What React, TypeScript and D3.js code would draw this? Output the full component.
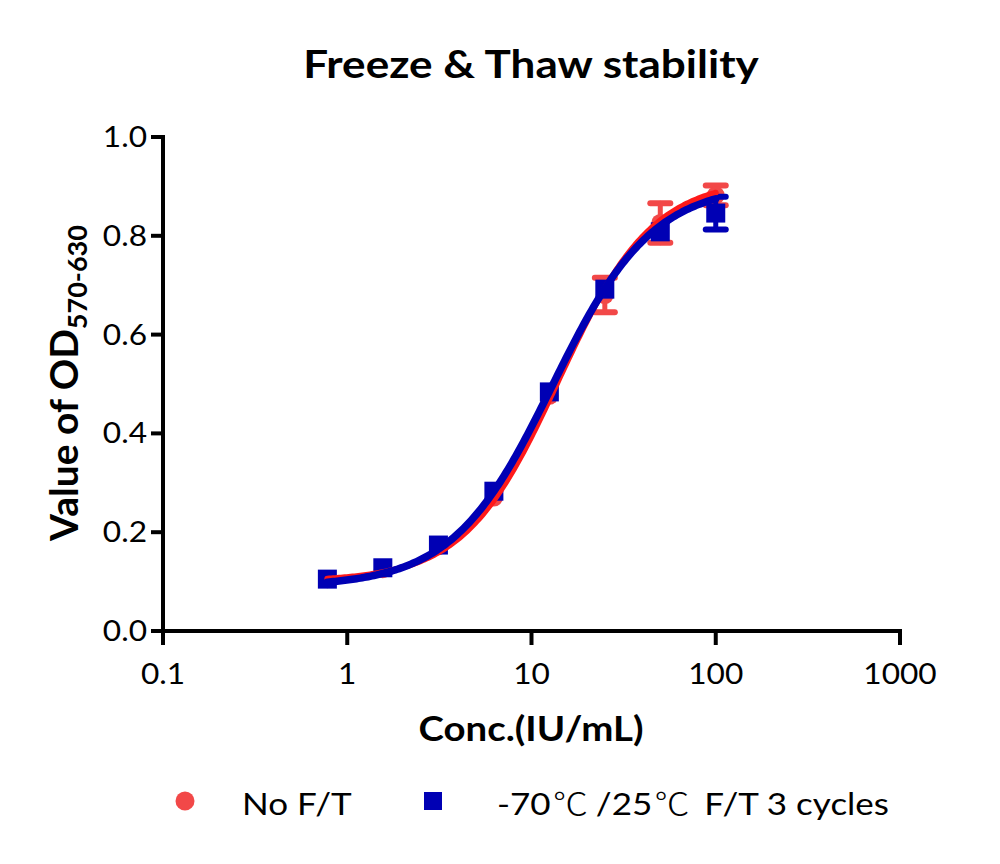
import React from "react";
import * as d3 from "d3";

// ---- data ----
const concentrations = [0.78, 1.56, 3.125, 6.25, 12.5, 25, 50, 100];
const noFTMean = [0.105, 0.125, 0.172, 0.27, 0.476, 0.68, 0.826, 0.882];
const noFTErr = [0, 0, 0, 0, 0, 0.035, 0.04, 0.02];
const ftMean = [0.105, 0.128, 0.174, 0.283, 0.484, 0.692, 0.808, 0.846];
const ftErr = [0, 0, 0, 0, 0, 0, 0, 0.033];
// 4PL fit parameters: [bottom, top, EC50, hill]
const noFTFit = [0.1, 0.915, 14, 1.7];
const ftFit = [0.09, 0.905, 13, 1.6];
const xTicks = [0.1, 1, 10, 100, 1000];
const xTickLabels = ["0.1", "1", "10", "100", "1000"];
const yTicks = [0, 0.2, 0.4, 0.6, 0.8, 1.0];
const seriesNames = ["No F/T", "-70", "/25", "F/T 3 cycles"];

const FONT = "Lato, 'Noto Sans CJK SC', sans-serif";
const CJK = "'Noto Sans CJK SC', sans-serif";
const RED_PT = "#F24848";
const RED_LINE = "#FF1A1A";
const BLUE = "#0000B4";
const SX = 1.13;

function T(props: {
  x: number;
  y: number;
  size: number;
  anchor?: string;
  bold?: boolean;
  children: React.ReactNode;
}) {
  return (
    <text
      transform={`translate(${props.x},${props.y}) scale(${SX},1)`}
      textAnchor={props.anchor || "start"}
      fontSize={props.size}
      fontWeight={props.bold ? "bold" : "normal"}
      fill="#000"
    >
      {props.children}
    </text>
  );
}

export default function App() {
  const x = d3.scaleLog().domain([0.1, 1000]).range([163, 900]);
  const y = d3.scaleLinear().domain([0, 1]).range([631, 137]);

  const fourPL = (p: number[]) => (c: number) =>
    p[0] + (p[1] - p[0]) / (1 + Math.pow(p[2] / c, p[3]));

  const curveXs = d3.range(0, 201).map((i) =>
    Math.pow(10, Math.log10(0.78) + (i / 200) * (Math.log10(100) - Math.log10(0.78)))
  );
  const line = d3.line<number>().x((c) => x(c));

  const redPath = line.y((c) => y(fourPL(noFTFit)(c)))(curveXs) || "";
  const bluePath = line.y((c) => y(fourPL(ftFit)(c)))(curveXs) || "";

  const errBars = (means: number[], errs: number[], color: string, key: string) =>
    concentrations.map((c, i) => {
      if (!errs[i]) return null;
      const cx = x(c);
      const top = y(means[i] + errs[i]);
      const bot = y(means[i] - errs[i]);
      return (
        <g key={key + i} stroke={color} strokeLinecap="round">
          <line x1={cx} x2={cx} y1={top} y2={bot} strokeWidth={5} />
          <line x1={cx - 10} x2={cx + 10} y1={top} y2={top} strokeWidth={6} />
          <line x1={cx - 10} x2={cx + 10} y1={bot} y2={bot} strokeWidth={6} />
        </g>
      );
    });

  return (
    <svg
      width={1000}
      height={864}
      style={{ position: "absolute", left: 0, top: 0, background: "#fff" }}
      fontFamily={FONT}
    >
      <rect width={1000} height={864} fill="#fff" />
      {/* title */}
      <T x={531} y={78} size={39} anchor="middle" bold>
        Freeze &amp; Thaw stability
      </T>

      {/* axes */}
      <g stroke="#000" strokeWidth={4} strokeLinecap="square">
        <line x1={163} x2={163} y1={137} y2={641} />
        <line x1={163} x2={900} y1={631} y2={631} />
        {yTicks.map((t) => (
          <line key={"yt" + t} x1={153} x2={163} y1={y(t)} y2={y(t)} />
        ))}
        {xTicks.map((t) => (
          <line key={"xt" + t} x1={x(t)} x2={x(t)} y1={631} y2={643} />
        ))}
      </g>
      {yTicks.map((t) => (
        <T key={"yl" + t} x={147} y={y(t) + 10} size={28} anchor="end">
          {t.toFixed(1)}
        </T>
      ))}
      {xTicks.map((t, i) => (
        <T key={"xl" + t} x={x(t)} y={684} size={28} anchor="middle">
          {xTickLabels[i]}
        </T>
      ))}

      {/* axis titles */}
      <text
        transform="translate(78,383) rotate(-90)"
        textAnchor="middle"
        fontSize={39}
        fontWeight="bold"
        fill="#000"
      >
        Value of OD
        <tspan fontSize={27} dy={9}>
          570-630
        </tspan>
      </text>
      <T x={531} y={741} size={34} anchor="middle" bold>
        Conc.(IU/mL)
      </T>

      {/* red series points */}
      {errBars(noFTMean, noFTErr, RED_PT, "re")}
      {concentrations.map((c, i) => (
        <circle key={"rp" + i} cx={x(c)} cy={y(noFTMean[i])} r={9} fill={RED_PT} />
      ))}
      {/* blue series points */}
      {errBars(ftMean, ftErr, BLUE, "be")}
      {concentrations.map((c, i) => (
        <rect
          key={"bp" + i}
          x={x(c) - 9.5}
          y={y(ftMean[i]) - 9.5}
          width={19}
          height={19}
          fill={BLUE}
        />
      ))}

      {/* fitted curves */}
      <path d={redPath} fill="none" stroke={RED_LINE} strokeWidth={6} strokeLinecap="round" />
      <path d={bluePath} fill="none" stroke={BLUE} strokeWidth={7.5} strokeLinecap="round" />

      {/* legend */}
      <circle cx={185} cy={801} r={9.5} fill={RED_PT} />
      <T x={242} y={815} size={31}>
        {seriesNames[0]}
      </T>
      <rect x={424} y={792} width={18} height={18} fill={BLUE} />
      <T x={497} y={815} size={31}>
        {seriesNames[1]}
        <tspan fontFamily={CJK} fontWeight={200} dx={2}>℃</tspan>
        <tspan dx={7}>{seriesNames[2]}</tspan>
        <tspan fontFamily={CJK} fontWeight={200} dx={2}>℃</tspan>
        <tspan dx={13}>{seriesNames[3]}</tspan>
      </T>
    </svg>
  );
}
